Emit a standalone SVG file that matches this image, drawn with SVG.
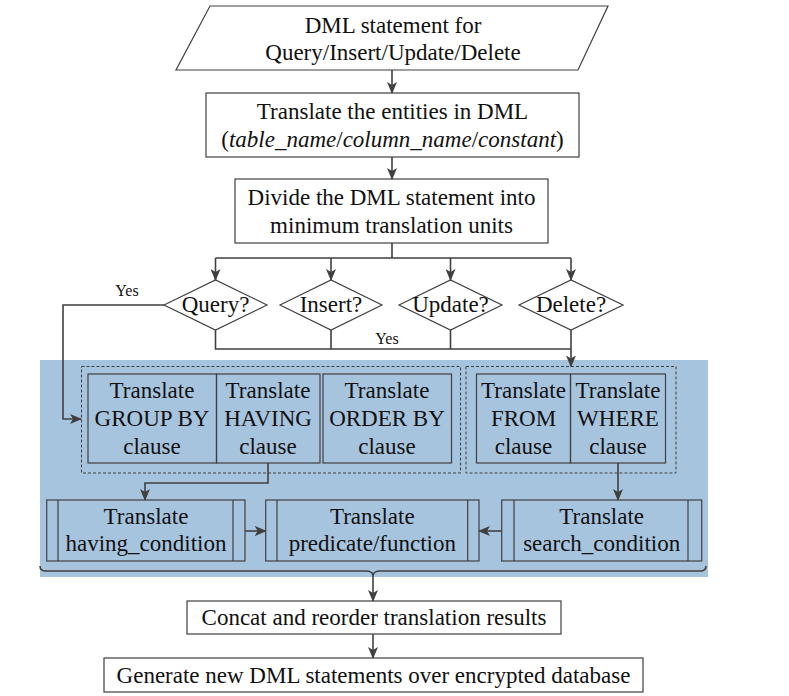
<svg xmlns="http://www.w3.org/2000/svg" width="789" height="696" viewBox="0 0 789 696">
<defs>
<marker id="ah" markerWidth="12" markerHeight="10" refX="11" refY="5" orient="auto" markerUnits="userSpaceOnUse">
<path d="M0,0 L12,5 L0,10 L3,5 z" fill="#404040"/>
</marker>
<style>
text{font-family:"Liberation Serif","Times New Roman",serif;font-size:23px;fill:#111;text-anchor:middle}
.yes{font-size:16px}
.box{fill:#fff;stroke:#404040;stroke-width:1.2}
.in{fill:none;stroke:#404040;stroke-width:1.2}
.dash{fill:none;stroke:#404040;stroke-width:1;stroke-dasharray:3 2}
.ln{fill:none;stroke:#404040;stroke-width:1.6}
.ar{fill:none;stroke:#404040;stroke-width:1.6;marker-end:url(#ah)}
</style>
</defs>
<rect width="789" height="696" fill="#fff"/>
<rect id="region" x="40" y="360" width="668" height="217" fill="#a7c4df"/>

<g id="input">
<polygon class="box" points="210,6 608,6 578,70 176,70"/>
<text x="393" y="33">DML statement for</text>
<text x="393" y="60">Query/Insert/Update/Delete</text>
</g>
<g id="translate_entities">
<rect class="box" x="206" y="93" width="373" height="64"/>
<text x="392.5" y="119">Translate the entities in DML</text>
<text x="392.5" y="147">(<tspan font-style="italic">table_name</tspan>/<tspan font-style="italic">column_name</tspan>/<tspan font-style="italic">constant</tspan>)</text>
</g>
<g id="divide">
<rect class="box" x="235" y="179" width="313" height="64"/>
<text x="391.5" y="205">Divide the DML statement into</text>
<text x="391.5" y="233">minimum translation units</text>
</g>
<g id="query">
<polygon class="box" points="164,305 215.5,280 267,305 215.5,330"/>
<text x="215.5" y="312">Query?</text>
</g>
<g id="insert">
<polygon class="box" points="280,305 331,280 382,305 331,330"/>
<text x="331" y="312">Insert?</text>
</g>
<g id="update">
<polygon class="box" points="399,305 450.5,280 502,305 450.5,330"/>
<text x="450.5" y="312">Update?</text>
</g>
<g id="delete">
<polygon class="box" points="519,305 571,280 623,305 571,330"/>
<text x="571" y="312">Delete?</text>
</g>

<g id="group_select">
<rect class="dash" x="81.5" y="366.5" width="379" height="106.5"/>
</g>
<g id="group_from">
<rect class="dash" x="466" y="366.5" width="210" height="106.5"/>
</g>
<g id="groupby">
<rect class="in" x="88" y="374" width="128.5" height="89"/>
<text x="152" y="398">Translate</text>
<text x="152" y="426">GROUP BY</text>
<text x="152" y="454">clause</text>
</g>
<g id="having">
<rect class="in" x="216.5" y="374" width="103.5" height="89"/>
<text x="268" y="398">Translate</text>
<text x="268" y="426">HAVING</text>
<text x="268" y="454">clause</text>
</g>
<g id="orderby">
<rect class="in" x="323" y="374" width="128.5" height="89"/>
<text x="387" y="398">Translate</text>
<text x="387" y="426">ORDER BY</text>
<text x="387" y="454">clause</text>
</g>
<g id="from">
<rect class="in" x="476.5" y="374" width="94" height="89"/>
<text x="523.5" y="398">Translate</text>
<text x="523.5" y="426">FROM</text>
<text x="523.5" y="454">clause</text>
</g>
<g id="where">
<rect class="in" x="570.5" y="374" width="95" height="89"/>
<text x="618" y="398">Translate</text>
<text x="618" y="426">WHERE</text>
<text x="618" y="454">clause</text>
</g>
<g id="having_condition">
<rect class="in" x="46.7" y="500" width="198.3" height="61"/>
<line class="in" x1="58" y1="500" x2="58" y2="561"/>
<line class="in" x1="233" y1="500" x2="233" y2="561"/>
<text x="146" y="524">Translate</text>
<text x="146" y="551">having_condition</text>
</g>
<g id="predicate">
<rect class="in" x="265.7" y="500" width="213.3" height="61"/>
<line class="in" x1="277" y1="500" x2="277" y2="561"/>
<line class="in" x1="467.7" y1="500" x2="467.7" y2="561"/>
<text x="372.3" y="524">Translate</text>
<text x="372.3" y="551">predicate/function</text>
</g>
<g id="search_condition">
<rect class="in" x="501.7" y="500" width="200" height="61"/>
<line class="in" x1="514" y1="500" x2="514" y2="561"/>
<line class="in" x1="688" y1="500" x2="688" y2="561"/>
<text x="601.7" y="524">Translate</text>
<text x="601.7" y="551">search_condition</text>
</g>
<g id="concat">
<rect class="box" x="187" y="601" width="374" height="33"/>
<text x="374" y="625">Concat and reorder translation results</text>
</g>
<g id="generate">
<rect class="box" x="104" y="658" width="539" height="34"/>
<text x="373.5" y="683">Generate new DML statements over encrypted database</text>
</g>

<g id="connectors">
<line class="ar" x1="392" y1="70" x2="392" y2="93"/>
<line class="ar" x1="392" y1="157" x2="392" y2="179"/>
<path class="ln" d="M392,243 V258 M215.5,258 H571"/>
<line class="ar" x1="215.5" y1="258" x2="215.5" y2="280"/>
<line class="ar" x1="331" y1="258" x2="331" y2="280"/>
<line class="ar" x1="450.5" y1="258" x2="450.5" y2="280"/>
<line class="ar" x1="571" y1="258" x2="571" y2="280"/>
<polyline class="ar" points="164,305 63,305 63,419 81,419"/>
<text class="yes" x="127" y="296">Yes</text>
<path class="ln" d="M215.5,330 V349 H571 M331,330 V349 M450.5,330 V349"/>
<line class="ar" x1="571" y1="330" x2="571" y2="366.5"/>
<text class="yes" x="387" y="344">Yes</text>
<polyline class="ar" points="268,463 268,483 145,483 145,500"/>
<line class="ar" x1="618" y1="463" x2="618" y2="500"/>
<line class="ar" x1="245" y1="531" x2="265.7" y2="531"/>
<line class="ar" x1="501.7" y1="531" x2="479" y2="531"/>
<path class="ln" d="M40,566 Q40,571 46,571 H366 Q372,571 373,575 Q374,571 380,571 H700 Q706,571 706,566"/>
<line class="ar" x1="373" y1="575" x2="373" y2="601"/>
<line class="ar" x1="373" y1="634" x2="373" y2="658"/>
</g>
</svg>
